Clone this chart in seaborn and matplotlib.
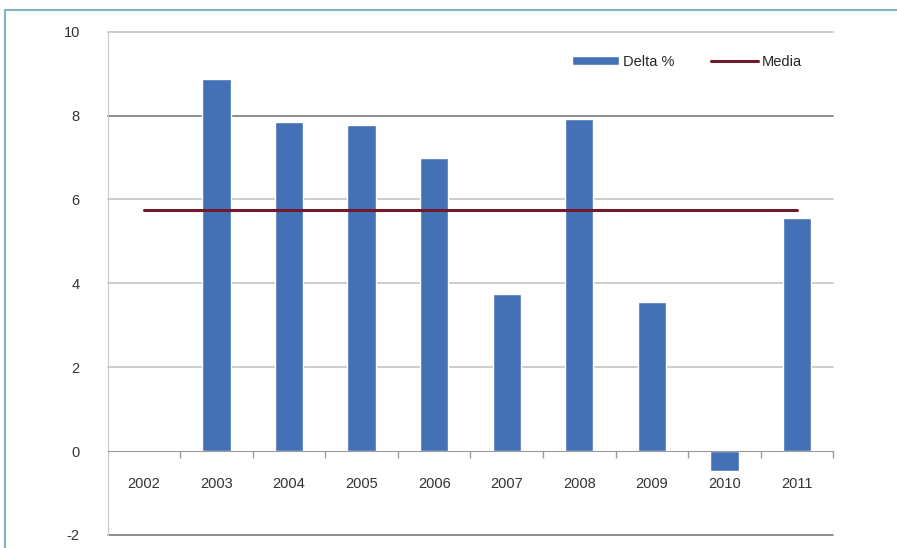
import matplotlib
matplotlib.use("Agg")
import matplotlib.pyplot as plt
from matplotlib.lines import Line2D
import seaborn as sns
import pandas as pd

years = ["2002", "2003", "2004", "2005", "2006", "2007", "2008", "2009", "2010", "2011"]
delta = [0.0, 8.88, 7.84, 7.78, 6.98, 3.74, 7.93, 3.55, -0.48, 5.55]
media = 5.75
y_ticks = [-2, 0, 2, 4, 6, 8, 10]

df = pd.DataFrame({"Anno": years, "Delta %": delta})

sns.set_style("white")
plt.rcParams["font.family"] = ["Liberation Sans", "DejaVu Sans"]
plt.rcParams["axes.unicode_minus"] = False

fig = plt.figure(figsize=(8.97, 5.48), dpi=100)
ax = fig.add_axes([0.120, 0.024, 0.809, 0.918])

# gridlines (drawn first so bars sit on top)
for yv in y_ticks:
    if yv == 0:
        continue
    c = "#7a7a7a" if yv in (8, -2) else "#c4c4c4"
    ax.axhline(yv, color=c, lw=1.2, zorder=0, clip_on=False)

sns.barplot(data=df, x="Anno", y="Delta %", color="#4470b5", width=0.39,
            saturation=1, ax=ax, zorder=2, label="Delta %")
ax.plot(range(len(years)), [media] * len(years), color="#6e1a2a", lw=2.2,
        zorder=3, label="Media")

ax.set_xlim(-0.5, len(years) - 0.5)
ax.set_ylim(-2, 10)
ax.set_yticks(y_ticks)
ax.set_xlabel("")
ax.set_ylabel("")

# x axis sits at zero, ticks between categories
ax.spines["bottom"].set_position(("data", 0))
ax.spines["bottom"].set_color("#9a9a9a")
ax.spines["left"].set_color("#c8c8c8")
ax.spines["top"].set_visible(False)
ax.spines["right"].set_visible(False)
ax.tick_params(axis="x", length=0, pad=19, labelsize=10.5, colors="#333333")
ax.set_xticks([i + 0.5 for i in range(len(years))], minor=True)
ax.tick_params(axis="x", which="minor", bottom=True, length=5, width=1,
               direction="out", color="#9a9a9a")
ax.tick_params(axis="y", length=0, pad=20, labelsize=10.5, colors="#333333")

handles, labels = ax.get_legend_handles_labels()
order = [labels.index("Delta %"), labels.index("Media")]
ax.legend([handles[i] for i in order], [labels[i] for i in order],
          loc="center right", bbox_to_anchor=(0.975, 0.94), ncol=2, frameon=False,
          fontsize=10.5, handlelength=3.2, handleheight=0.6, columnspacing=2.5,
          handletextpad=0.3)

# outer frame
fig.add_artist(Line2D([5 / 897, 1], [1 - 10 / 548] * 2, color="#7fb5c4", lw=1.5))
fig.add_artist(Line2D([5 / 897] * 2, [0, 1 - 10 / 548], color="#7fb5c4", lw=1.5))

fig.savefig("out.png", dpi=100)
